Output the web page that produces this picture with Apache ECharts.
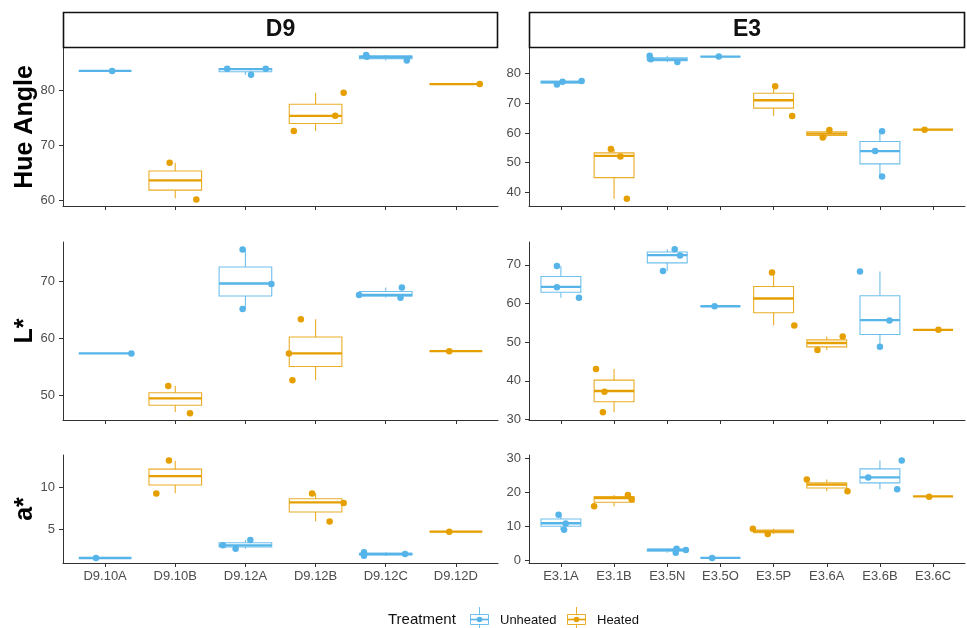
<!DOCTYPE html>
<html><head><meta charset="utf-8">
<script src="https://cdn.jsdelivr.net/npm/echarts@6/dist/echarts.min.js"></script>
<style>html,body{margin:0;padding:0;background:#fff}#c{width:967px;height:628px}</style>
</head><body><div id="c"></div>
<script>
// ---------- categories ----------
const d9Categories = ['D9.10A','D9.10B','D9.12A','D9.12B','D9.12C','D9.12D'];
const d9Treatment  = ['Unheated','Heated','Unheated','Heated','Unheated','Heated'];
const e3Categories = ['E3.1A','E3.1B','E3.5N','E3.5O','E3.5P','E3.6A','E3.6B','E3.6C'];
const e3Treatment  = ['Unheated','Heated','Unheated','Unheated','Heated','Heated','Unheated','Heated'];
const measures = ['Hue Angle','L*','a*'];
const facets = ['D9','E3'];
const treatments = ['Unheated','Heated'];

// ---------- box stats [min, q1, median, q3, max] ----------
const d9HueBox = [[83.6,83.6,83.6,83.6,83.6],[60.3,61.8,63.6,65.3,66.8],[82.9,83.45,83.95,84.05,84.1],[72.6,74.0,75.4,77.5,79.6],[85.5,85.85,86.2,86.35,86.5],[81.2,81.2,81.2,81.2,81.2]];
const e3HueBox = [[76.3,76.75,77.2,77.35,77.5],[37.8,44.95,52.3,53.3,54.6],[83.9,84.35,84.8,85.3,86.0],[85.7,85.7,85.7,85.7,85.7],[65.7,68.35,71.0,73.35,75.7],[58.5,59.15,59.8,60.4,61.0],[45.3,49.6,53.9,57.1,60.6],[61.1,61.1,61.1,61.1,61.1]];
const d9LBox = [[57.3,57.3,57.3,57.3,57.3],[47.0,48.2,49.4,50.4,51.6],[65.1,67.4,69.6,72.5,75.6],[52.6,55.0,57.3,60.2,63.3],[67.1,67.35,67.6,68.2,68.9],[57.7,57.7,57.7,57.7,57.7]];
const e3LBox = [[61.5,62.9,64.3,67.0,69.7],[31.9,34.6,37.4,40.2,43.1],[68.4,70.5,72.5,73.3,74.0],[59.3,59.3,59.3,59.3,59.3],[54.4,57.6,61.3,64.4,68.0],[48.0,48.8,49.8,50.6,51.5],[48.8,52.0,55.7,62.0,68.3],[53.2,53.2,53.2,53.2,53.2]];
const d9ABox = [[1.52,1.52,1.52,1.52,1.52],[9.3,10.3,11.35,12.2,13.2],[2.64,2.84,3.04,3.36,3.68],[5.95,7.05,8.2,8.65,9.3],[1.8,1.9,2.0,2.1,2.2],[4.68,4.68,4.68,4.68,4.68]];
const e3ABox = [[9.1,10.1,11.0,12.25,13.5],[16.0,17.2,18.4,18.85,19.3],[2.3,2.75,3.2,3.35,3.5],[0.8,0.8,0.8,0.8,0.8],[7.84,8.22,8.6,9.0,9.4],[20.4,21.4,22.4,22.9,23.9],[21.0,22.9,24.5,27.0,29.5],[18.9,18.9,18.9,18.9,18.9]];

// ---------- observations [categoryIndex, jitter, value] ----------
const d9HuePoints = [[0,0.10,83.6],[1,-0.08,66.8],[1,0.30,60.1],[2,-0.26,84.0],[2,0.08,82.9],[2,0.29,84.0],[3,-0.31,72.6],[3,0.28,75.4],[3,0.40,79.6],[4,-0.28,86.5],[4,-0.27,86.2],[4,0.30,85.5],[5,0.34,81.2]];
const e3HuePoints = [[0,-0.075,76.3],[0,0.03,77.2],[0,0.39,77.5],[1,-0.06,54.6],[1,0.12,52.1],[1,0.24,37.8],[2,-0.33,86.0],[2,-0.31,84.8],[2,0.19,83.9],[3,-0.03,85.7],[4,0.03,75.7],[4,0.35,65.7],[5,-0.075,58.5],[5,0.05,61.0],[6,-0.09,53.9],[6,0.04,60.6],[6,0.04,45.3],[7,-0.16,61.1]];
const d9LPoints = [[0,0.375,57.3],[1,-0.10,51.6],[1,0.21,46.8],[2,-0.04,75.6],[2,-0.04,65.1],[2,0.37,69.5],[3,-0.21,63.3],[3,-0.38,57.3],[3,-0.33,52.6],[4,-0.38,67.6],[4,0.23,68.9],[4,0.21,67.1],[5,-0.095,57.7]];
const e3LPoints = [[0,-0.075,69.7],[0,-0.075,64.2],[0,0.34,61.5],[1,-0.34,43.1],[1,-0.18,37.2],[1,-0.21,31.9],[2,-0.08,68.4],[2,0.14,74.0],[2,0.24,72.4],[3,-0.11,59.3],[4,-0.03,68.0],[4,0.39,54.3],[5,-0.175,48.0],[5,0.30,51.5],[6,-0.375,68.3],[6,0.18,55.6],[6,0.0,48.8],[7,0.10,53.2]];
const d9APoints = [[0,-0.13,1.52],[1,-0.09,13.24],[1,-0.27,9.28],[2,-0.32,3.04],[2,-0.14,2.64],[2,0.07,3.68],[3,-0.05,9.28],[3,0.40,8.12],[3,0.20,5.92],[4,-0.31,2.2],[4,-0.31,1.8],[4,0.275,2.0],[5,-0.095,4.68]];
const e3APoints = [[0,-0.044,13.5],[0,0.09,10.9],[0,0.06,9.1],[1,-0.375,16.0],[1,0.26,19.3],[1,0.33,18.1],[2,0.175,3.5],[2,0.16,2.3],[2,0.35,3.1],[3,-0.156,0.8],[4,-0.39,9.4],[4,-0.11,7.84],[5,-0.375,23.9],[5,0.39,20.4],[6,-0.22,24.5],[6,0.41,29.5],[6,0.325,21.0],[7,-0.075,18.8]];

// ---------- axis ranges and tick labels ----------
const d9HueRange = [58.9, 87.8], e3HueRange = [35.4, 88.6];
const d9LRange = [45.6, 76.9],  e3LRange = [29.9, 75.9];
const d9ARange = [0.92, 13.9],  e3ARange = [-0.7, 31.1];
const d9HueTicks = [60,70,80], e3HueTicks = [40,50,60,70,80];
const d9LTicks = [50,60,70],   e3LTicks = [30,40,50,60,70];
const d9ATicks = [5,10],       e3ATicks = [0,10,20,30];

// ---------- style ----------
const UNHEAT = '#56B4E9', HEAT = '#E69F00';
const FONT = '"Liberation Sans", Arial, sans-serif';
const colLeft = [63, 529], colWidth = [435, 436];
const rowTop = [48, 242, 455], rowHeight = [158, 178, 108];
const BOX_HALF = 0.375;

const panels = [
  {c:0,r:0,cats:d9Categories,treat:d9Treatment,box:d9HueBox,pts:d9HuePoints,range:d9HueRange,ticks:d9HueTicks},
  {c:1,r:0,cats:e3Categories,treat:e3Treatment,box:e3HueBox,pts:e3HuePoints,range:e3HueRange,ticks:e3HueTicks},
  {c:0,r:1,cats:d9Categories,treat:d9Treatment,box:d9LBox,pts:d9LPoints,range:d9LRange,ticks:d9LTicks},
  {c:1,r:1,cats:e3Categories,treat:e3Treatment,box:e3LBox,pts:e3LPoints,range:e3LRange,ticks:e3LTicks},
  {c:0,r:2,cats:d9Categories,treat:d9Treatment,box:d9ABox,pts:d9APoints,range:d9ARange,ticks:d9ATicks},
  {c:1,r:2,cats:e3Categories,treat:e3Treatment,box:e3ABox,pts:e3APoints,range:e3ARange,ticks:e3ATicks}
];

const colorOf = t => t === 'Heated' ? HEAT : UNHEAT;
const fade = (hex, a) => {
  const n = parseInt(hex.slice(1),16);
  return `rgba(${n>>16},${(n>>8)&255},${n&255},${a})`;
};

const grid = [], xAxis = [], yAxis = [], series = [];
panels.forEach((p, k) => {
  const n = p.cats.length;
  grid.push({left: colLeft[p.c], top: rowTop[p.r], width: colWidth[p.c], height: rowHeight[p.r], outerBoundsMode: 'none'});
  const idx = p.cats.map((_, i) => i);
  xAxis.push({
    type: 'value', gridIndex: k, min: -0.6, max: n - 0.4,
    splitLine: {show: false},
    axisLine: {show: true, onZero: false, lineStyle: {color: '#333', width: 1}},
    axisTick: {show: true, length: 4, customValues: idx, lineStyle: {color: '#333'}},
    axisLabel: {show: p.r === 2, customValues: idx, margin: 7, color: '#4D4D4D', fontSize: 13, fontFamily: FONT,
      formatter: v => p.cats[Math.round(v)]}
  });
  yAxis.push({
    type: 'value', gridIndex: k, min: p.range[0], max: p.range[1],
    splitLine: {show: false},
    axisLine: {show: true, onZero: false, lineStyle: {color: '#333', width: 1}},
    axisTick: {show: true, length: 4, customValues: p.ticks, lineStyle: {color: '#333'}},
    axisLabel: {show: true, customValues: p.ticks, margin: 8, color: '#4D4D4D', fontSize: 13, fontFamily: FONT}
  });
  series.push({
    type: 'custom', xAxisIndex: k, yAxisIndex: k, z: 2, silent: true,
    data: p.box.map((b, i) => [i, ...b]),
    encode: {x: 0, y: [1,2,3,4,5]},
    renderItem: (params, api) => {
      const i = api.value(0);
      const col = colorOf(p.treat[i]);
      const light = fade(col, 0.85);
      const xc = api.coord([i, 0])[0];
      const xl = api.coord([i - BOX_HALF, 0])[0];
      const xr = api.coord([i + BOX_HALF, 0])[0];
      const y = j => api.coord([i, api.value(j)])[1];
      const yMin = y(1), yQ1 = y(2), yMed = y(3), yQ3 = y(4), yMax = y(5);
      return {type: 'group', children: [
        {type: 'line', shape: {x1: xc, y1: yQ3, x2: xc, y2: yMax}, style: {stroke: light, lineWidth: 1.1}},
        {type: 'line', shape: {x1: xc, y1: yQ1, x2: xc, y2: yMin}, style: {stroke: light, lineWidth: 1.1}},
        {type: 'rect', shape: {x: xl, y: yQ3, width: xr - xl, height: yQ1 - yQ3}, style: {fill: '#fff', stroke: light, lineWidth: 1.1}},
        {type: 'line', shape: {x1: xl, y1: yMed, x2: xr, y2: yMed}, style: {stroke: col, lineWidth: 2.3}}
      ]};
    }
  });
  treatments.forEach(t => {
    series.push({
      type: 'scatter', xAxisIndex: k, yAxisIndex: k, z: 5, silent: true,
      symbol: 'circle', symbolSize: 6.5,
      itemStyle: {color: colorOf(t), opacity: 1},
      data: p.pts.filter(q => p.treat[q[0]] === t).map(q => [q[0] + q[1], q[2]])
    });
  });
});

// ---------- strips, axis titles, legend ----------
const graphic = [];
facets.forEach((f, c) => {
  graphic.push({type: 'rect', shape: {x: colLeft[c] + 0.5, y: 12.5, width: colWidth[c] - 1, height: 35},
    style: {fill: '#fff', stroke: '#111', lineWidth: 1.6}, z: 10});
  graphic.push({type: 'text', x: colLeft[c] + colWidth[c] / 2, y: 30, z: 11,
    style: {text: f, font: `bold 23px ${FONT}`, fill: '#111', align: 'center', verticalAlign: 'middle'}});
});
measures.forEach((m, r) => {
  graphic.push({type: 'text', x: 25, y: rowTop[r] + rowHeight[r] / 2, rotation: Math.PI / 2, z: 11,
    style: {text: m, font: `bold 25px ${FONT}`, fill: '#000', align: 'center', verticalAlign: 'middle'}});
});
graphic.push({type: 'text', x: 388, y: 620, z: 11,
  style: {text: 'Treatment', font: `15px ${FONT}`, fill: '#111', align: 'left', verticalAlign: 'middle'}});
const keyX = [470, 567], labelX = [500, 597];
treatments.forEach((t, i) => {
  const col = colorOf(t), cx = keyX[i] + 9.5;
  graphic.push({type: 'group', z: 11, children: [
    {type: 'line', shape: {x1: cx, y1: 607, x2: cx, y2: 628}, style: {stroke: fade(col, 0.85), lineWidth: 1}},
    {type: 'rect', shape: {x: keyX[i] + 0.5, y: 614.5, width: 18, height: 10}, style: {fill: '#fff', stroke: fade(col, 0.85), lineWidth: 1}},
    {type: 'line', shape: {x1: keyX[i] + 0.5, y1: 619.5, x2: keyX[i] + 18.5, y2: 619.5}, style: {stroke: col, lineWidth: 1.6}},
    {type: 'circle', shape: {cx: cx, cy: 619.5, r: 2.8}, style: {fill: col}}
  ]});
  graphic.push({type: 'text', x: labelX[i], y: 620, z: 11,
    style: {text: t, font: `13px ${FONT}`, fill: '#111', align: 'left', verticalAlign: 'middle'}});
});

const chart = echarts.init(document.getElementById('c'), null, {renderer: 'canvas'});
chart.setOption({
  animation: false,
  backgroundColor: '#fff',
  textStyle: {fontFamily: FONT},
  grid, xAxis, yAxis, series, graphic
});
</script>
</body></html>
